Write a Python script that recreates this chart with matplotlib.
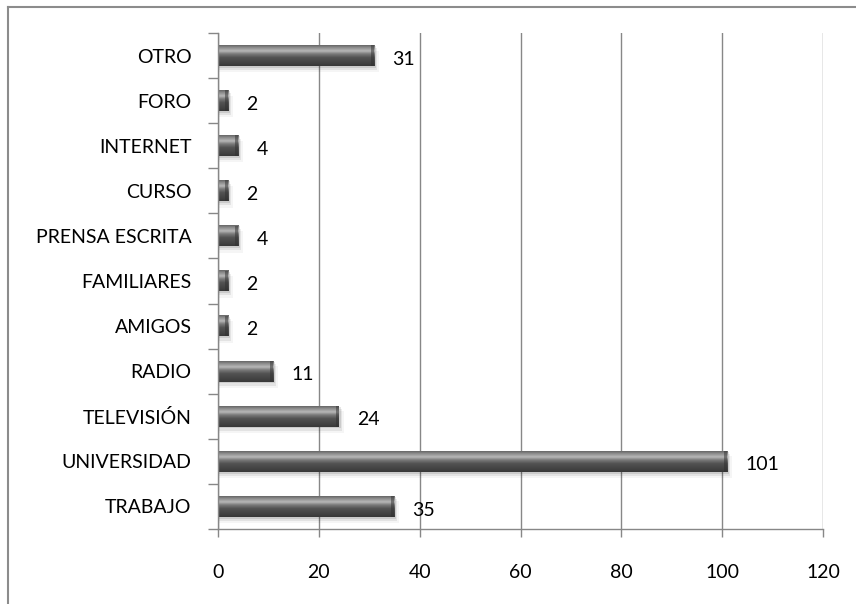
import numpy as np
import matplotlib.pyplot as plt
from matplotlib.colors import LinearSegmentedColormap
from matplotlib.patches import Rectangle
from matplotlib.lines import Line2D

categorias = ['TRABAJO', 'UNIVERSIDAD', 'TELEVISIÓN', 'RADIO', 'AMIGOS', 'FAMILIARES',
              'PRENSA ESCRITA', 'CURSO', 'INTERNET', 'FORO', 'OTRO']
valores = [35, 101, 24, 11, 2, 2, 4, 2, 4, 2, 31]
ticks_x = [0, 20, 40, 60, 80, 100, 120]

plt.rcParams['font.family'] = ['Lato', 'DejaVu Sans']

fig = plt.figure(figsize=(8.56, 6.04), dpi=100)
ax = fig.add_axes([218 / 856, 1 - 529 / 604, (823 - 218) / 856, (529 - 33) / 604])

# degradado vertical para el efecto cilindro de las barras
grad = LinearSegmentedColormap.from_list('barra', [
    (0.0, '#666666'), (0.12, '#8e8e8e'), (0.28, '#b8b8b8'), (0.42, '#7a7a7a'),
    (0.6, '#525252'), (0.85, '#434343'), (1.0, '#383838')])
img = np.linspace(0, 1, 64).reshape(-1, 1)

alto = 0.46
for i, v in enumerate(valores):
    # sombra difusa
    for k, a in enumerate([0.10, 0.07, 0.04]):
        d = 0.04 + k * 0.05
        ax.add_patch(Rectangle((0, i - alto / 2 - d), v + 0.3 + k * 0.3, alto + 0.02,
                               color='#000000', alpha=a, lw=0, zorder=2))
    ax.imshow(img, cmap=grad, aspect='auto', extent=(0, v, i - alto / 2, i + alto / 2),
              origin='upper', interpolation='bilinear', zorder=3)
    ax.add_patch(Rectangle((max(v - 0.6, 0), i - alto / 2), min(0.6, v), alto,
                           color='#303030', alpha=0.5, lw=0, zorder=4))
    ax.text(v + 3.6, i - 0.08, str(v), va='center', ha='left', fontsize=14, color='#000000')

ax.set_xlim(0, 120)
ax.set_ylim(-0.5, len(categorias) - 0.5)
ax.set_xticks(ticks_x)
ax.set_xticklabels([str(t) for t in ticks_x], fontsize=14)
ax.set_yticks(range(len(categorias)))
ax.set_yticklabels(categorias, fontsize=14)
ax.tick_params(axis='y', length=0, pad=19)
ax.tick_params(axis='x', length=6, color='#878787', pad=19, width=1)

# marcas del eje Y entre categorías
ax.set_yticks(np.arange(-0.5, len(categorias), 1), minor=True)
ax.tick_params(axis='y', which='minor', length=7, color='#878787', width=1)

ax.grid(axis='x', color='#878787', lw=1, zorder=1)
ax.set_axisbelow(True)
for s in ['top', 'right']:
    ax.spines[s].set_visible(False)
for s in ['left', 'bottom']:
    ax.spines[s].set_color('#878787')
    ax.spines[s].set_linewidth(1)
    ax.spines[s].set_zorder(5)

# marco exterior del gráfico
fig.add_artist(Line2D([8 / 856, 1], [1 - 7 / 604, 1 - 7 / 604], color='#8c8c8c', lw=1.5))
fig.add_artist(Line2D([8 / 856, 8 / 856], [0, 1 - 7 / 604], color='#8c8c8c', lw=1.5))

fig.savefig('out.png', dpi=100)
